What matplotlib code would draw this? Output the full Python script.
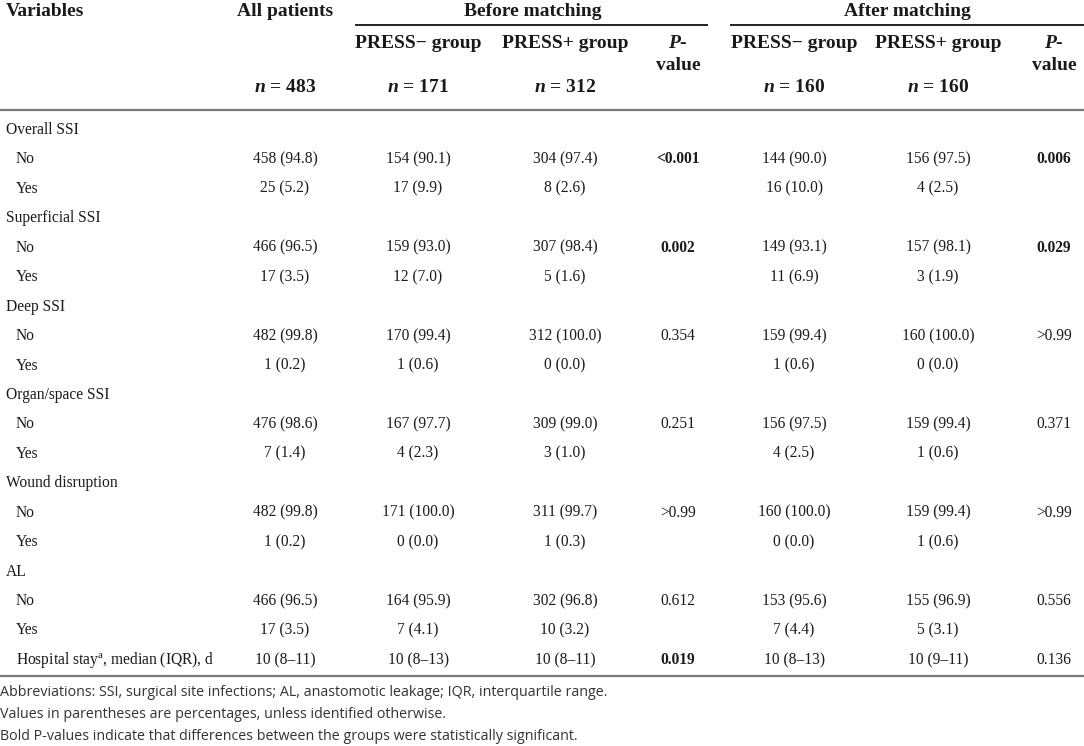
import matplotlib
matplotlib.use("Agg")
import matplotlib.pyplot as plt

# table content
variables = ["Overall SSI", "Superficial SSI", "Deep SSI", "Organ/space SSI", "Wound disruption", "AL"]
all_no = ["458 (94.8)", "466 (96.5)", "482 (99.8)", "476 (98.6)", "482 (99.8)", "466 (96.5)"]
all_yes = ["25 (5.2)", "17 (3.5)", "1 (0.2)", "7 (1.4)", "1 (0.2)", "17 (3.5)"]
bm_neg_no = ["154 (90.1)", "159 (93.0)", "170 (99.4)", "167 (97.7)", "171 (100.0)", "164 (95.9)"]
bm_neg_yes = ["17 (9.9)", "12 (7.0)", "1 (0.6)", "4 (2.3)", "0 (0.0)", "7 (4.1)"]
bm_pos_no = ["304 (97.4)", "307 (98.4)", "312 (100.0)", "309 (99.0)", "311 (99.7)", "302 (96.8)"]
bm_pos_yes = ["8 (2.6)", "5 (1.6)", "0 (0.0)", "3 (1.0)", "1 (0.3)", "10 (3.2)"]
bm_p = ["<0.001", "0.002", "0.354", "0.251", ">0.99", "0.612"]
bm_bold = [True, True, False, False, False, False]
am_neg_no = ["144 (90.0)", "149 (93.1)", "159 (99.4)", "156 (97.5)", "160 (100.0)", "153 (95.6)"]
am_neg_yes = ["16 (10.0)", "11 (6.9)", "1 (0.6)", "4 (2.5)", "0 (0.0)", "7 (4.4)"]
am_pos_no = ["156 (97.5)", "157 (98.1)", "160 (100.0)", "159 (99.4)", "159 (99.4)", "155 (96.9)"]
am_pos_yes = ["4 (2.5)", "3 (1.9)", "0 (0.0)", "1 (0.6)", "1 (0.6)", "5 (3.1)"]
am_p = ["0.006", "0.029", ">0.99", "0.371", ">0.99", "0.556"]
am_bold = [True, True, False, False, False, False]

hospital_label = r"Hospital stay$^{\mathrm{a}}$, median (IQR), d"
hospital = ["10 (8–11)", "10 (8–13)", "10 (8–11)", "0.019", "10 (8–13)", "10 (9–11)", "0.136"]
hospital_bold = [False, False, False, True, False, False, False]

group_names = ["PRESS− group", "PRESS+ group"]
n_all = "483"
n_before = ["171", "312"]
n_after = ["160", "160"]

footnotes = [
    "Abbreviations: SSI, surgical site infections; AL, anastomotic leakage; IQR, interquartile range.",
    "Values in parentheses are percentages, unless identified otherwise.",
    "Bold P-values indicate that differences between the groups were statistically significant.",
]

plt.rcParams["mathtext.fontset"] = "custom"
plt.rcParams["mathtext.rm"] = "Liberation Serif"
plt.rcParams["mathtext.bf"] = "Liberation Serif:bold"
plt.rcParams["mathtext.bfit"] = "Liberation Serif:bold:italic"
plt.rcParams["mathtext.it"] = "Liberation Serif:italic"

SERIF = "Liberation Serif"
SANS = "Open Sans"
TXT = "#1a1a1a"
HFS = 14
BFS = 11.2

fig = plt.figure(figsize=(10.84, 7.46), dpi=100)
ax = fig.add_axes([0, 0, 1, 1])
ax.set_xlim(0, 1084)
ax.set_ylim(746, 0)
ax.axis("off")

# column centres (pixels)
cols = [285, 418, 565, 678, 794, 938, 1054]


def head(x, y, s, ha="center"):
    ax.text(x, y, s, ha=ha, va="center", fontsize=HFS, fontweight="bold",
            family=SERIF, color=TXT)


def cell(x, y, s, bold=False, ha="center"):
    ax.text(x, y, s, ha=ha, va="center", fontsize=BFS,
            fontweight="bold" if bold else "normal", family=SERIF, color=TXT)


# header
head(6, 11, "Variables", ha="left")
head(cols[0], 11, "All patients")
head(533, 11, "Before matching")
head(907, 11, "After matching")
ax.plot([355, 708], [25, 25], color="#111111", lw=1.3, solid_capstyle="butt")
ax.plot([730, 1084], [25, 25], color="#111111", lw=1.3, solid_capstyle="butt")

for i, g in enumerate(group_names):
    head(cols[1 + i], 43, g)
    head(cols[4 + i], 43, g)
for c in (cols[3], cols[6]):
    head(c, 43, r"$\mathbfit{P}$-")
    head(c, 65, "value")

head(cols[0], 88, r"$\mathbfit{n}$ = " + n_all)
for i in range(2):
    head(cols[1 + i], 88, r"$\mathbfit{n}$ = " + n_before[i])
    head(cols[4 + i], 88, r"$\mathbfit{n}$ = " + n_after[i])

ax.plot([0, 1084], [110, 110], color="#777777", lw=1.6)

# body
y0 = 130
step = 29.44
for k, var in enumerate(variables):
    yc = y0 + 3 * k * step
    yn = yc + step
    yy = yc + 2 * step
    cell(6, yc, var, ha="left")
    cell(16, yn, "No", ha="left")
    cell(16, yy, "Yes", ha="left")
    no_row = [all_no[k], bm_neg_no[k], bm_pos_no[k], bm_p[k], am_neg_no[k], am_pos_no[k], am_p[k]]
    yes_row = [all_yes[k], bm_neg_yes[k], bm_pos_yes[k], "", am_neg_yes[k], am_pos_yes[k], ""]
    bold_row = [False, False, False, bm_bold[k], False, False, am_bold[k]]
    for c, s, b in zip(cols, no_row, bold_row):
        cell(c, yn, s, bold=b)
    for c, s in zip(cols, yes_row):
        if s:
            cell(c, yy, s)

yh = y0 + 18 * step
cell(16, yh, hospital_label, ha="left")
for c, s, b in zip(cols, hospital, hospital_bold):
    cell(c, yh, s, bold=b)

ax.plot([0, 1084], [676, 676], color="#777777", lw=1.6)

for j, f in enumerate(footnotes):
    ax.text(0, 693 + 22 * j, f, ha="left", va="center", fontsize=10.3,
            family=SANS, color="#333333")

fig.savefig("out.png", dpi=100)
